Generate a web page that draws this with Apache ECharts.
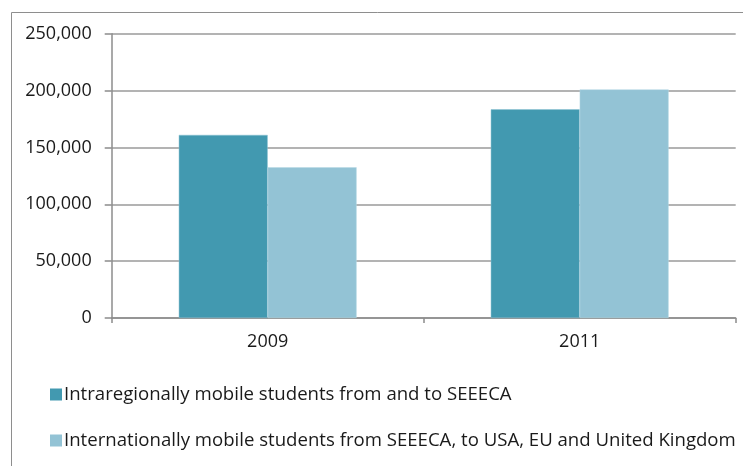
<!DOCTYPE html>
<html>
<head>
<meta charset="utf-8">
<script src="https://cdn.jsdelivr.net/npm/echarts@6/dist/echarts.min.js"></script>
<style>html,body{margin:0;padding:0;background:#fff}#c{width:743px;height:466px}</style>
</head>
<body>
<div id="c"></div>
<script>
var categories = ['2009', '2011'];
var seriesNames = ['Intraregionally mobile students from and to SEEECA',
                   'Internationally mobile students from SEEECA, to USA, EU and United Kingdom'];
var intraregional = [161000, 183500];
var international = [132500, 201000];
var yTicks = [0, 50000, 100000, 150000, 200000, 250000];

var FONT = "'Open Sans', sans-serif";
var chart = echarts.init(document.getElementById('c'), null, {renderer: 'canvas'});
chart.setOption({
  animation: false,
  backgroundColor: '#fff',
  graphic: [{
    type: 'rect', silent: true,
    shape: {x: 11.5, y: 12.5, width: 900, height: 600},
    style: {fill: 'none', stroke: '#8e8e8e', lineWidth: 1}
  }],
  grid: {left: 111.7, top: 33.7, right: 7.3, bottom: 148, containLabel: false},
  legend: {
    orient: 'vertical', left: 45, top: 380,
    itemWidth: 12, itemHeight: 12, itemGap: 27, icon: 'rect',
    itemStyle: {borderWidth: 0},
    textStyle: {fontFamily: FONT, fontSize: 18.6, color: '#1a1a1a', padding: [0, 0, 0, -3]},
    data: seriesNames
  },
  xAxis: {
    type: 'category', data: categories,
    axisLine: {lineStyle: {color: '#8c8c8c', width: 1.5}},
    axisTick: {show: true, length: 5, lineStyle: {color: '#8c8c8c', width: 1.5}},
    axisLabel: {fontFamily: FONT, fontSize: 18, color: '#1a1a1a', margin: 15}
  },
  yAxis: {
    type: 'value', min: yTicks[0], max: yTicks[yTicks.length - 1], interval: yTicks[1] - yTicks[0],
    axisLine: {show: true, lineStyle: {color: '#8c8c8c', width: 1.5}},
    axisTick: {show: true, length: 7, lineStyle: {color: '#8c8c8c', width: 1.5}},
    splitLine: {lineStyle: {color: '#9a9a9a', width: 1.5}},
    axisLabel: {fontFamily: FONT, fontSize: 18, color: '#1a1a1a', margin: 20,
      formatter: function (v) { return v.toLocaleString('en-US'); }}
  },
  series: [
    {name: seriesNames[0], type: 'bar', data: intraregional, barGap: '0%', barCategoryGap: '43%',
     itemStyle: {color: '#4299B0', borderColor: '#8cc3d3', borderWidth: 0.5}},
    {name: seriesNames[1], type: 'bar', data: international, barGap: '0%', barCategoryGap: '43%',
     itemStyle: {color: '#93C3D5', borderColor: '#b6d8e4', borderWidth: 0.5}}
  ]
});
</script>
</body>
</html>
